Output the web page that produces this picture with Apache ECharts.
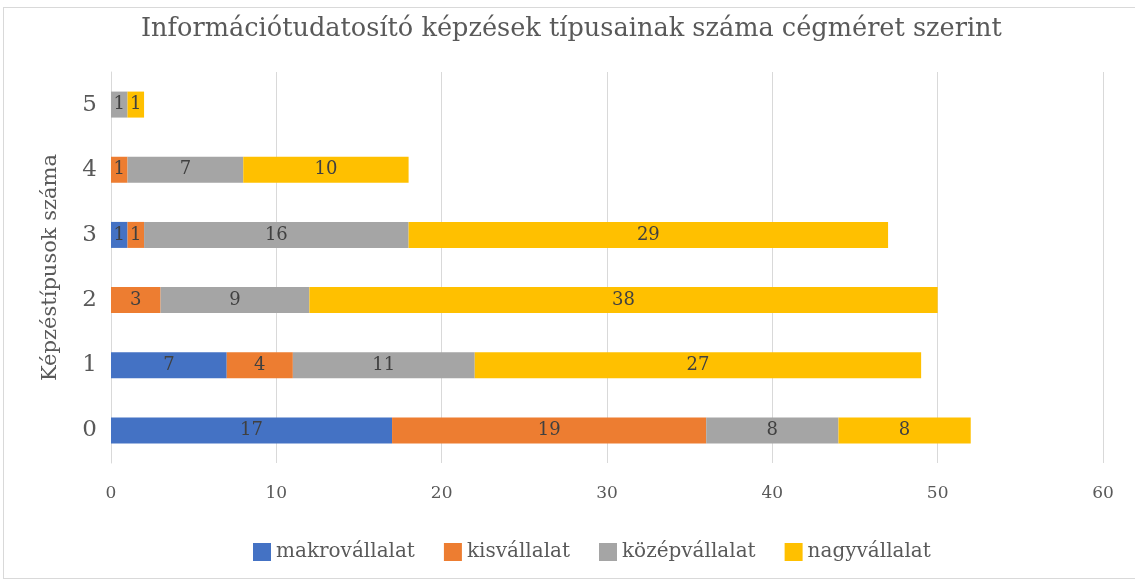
<!DOCTYPE html>
<html lang="hu">
<head>
    <meta charset="UTF-8">
    <title>Információtudatosító képzések</title>
    <script src="https://cdn.jsdelivr.net/npm/echarts@6/dist/echarts.min.js"></script>
    <style type="text/css">
        body{ margin:0; background:#fff; overflow:hidden; }
        .chartData{
            position:absolute;
            left:3px; top:7px;
            width:1150px; height:572px;
            border:1px solid #d9d9d9;
            box-sizing:border-box;
        }
    </style>
</head>
<body>
<div class="chartData" id="chartData"></div>
<script type="text/javascript">
    var categories = ['0', '1', '2', '3', '4', '5'];
    var makro  = [17, 7, null, 1, null, null];
    var kis    = [19, 4, 3, 1, 1, null];
    var kozep  = [8, 11, 9, 16, 7, 1];
    var nagy   = [8, 27, 38, 29, 10, 1];
    var seriesNames = ['makrovállalat', 'kisvállalat', 'középvállalat', 'nagyvállalat'];
    var colors = ['#4472c4', '#ed7d31', '#a5a5a5', '#ffc000'];

    var font = '"DejaVu Serif", "Liberation Serif", serif';
    var myChart = echarts.init(document.getElementById('chartData'));

    function makeSeries(name, data, color) {
        return {
            name: name,
            type: 'bar',
            stack: 'total',
            barWidth: 26,
            itemStyle: { color: color },
            label: {
                show: true,
                position: 'inside',
                color: '#404040',
                fontFamily: font,
                fontSize: 18,
                formatter: function (p) { return p.value == null ? '' : p.value; }
            },
            data: data
        };
    }

    var option = {
        animation: false,
        textStyle: { fontFamily: font },
        title: {
            text: 'Információtudatosító képzések típusainak száma cégméret szerint',
            left: 132,
            top: 3,
            textStyle: { color: '#595959', fontSize: 25.6, fontWeight: 'normal', fontFamily: font }
        },
        legend: {
            data: seriesNames,
            icon: 'rect',
            top: 529,
            left: 244,
            itemWidth: 18,
            itemHeight: 18,
            itemGap: 29,
            textStyle: { color: '#595959', fontSize: 20, fontFamily: font }
        },
        grid: {
            left: 107,
            width: 992,
            top: 64,
            height: 391,
            containLabel: false
        },
        xAxis: {
            type: 'value',
            min: 0,
            max: 60,
            interval: 10,
            axisLine: { show: false },
            axisTick: { show: false },
            splitLine: { lineStyle: { color: '#d9d9d9', width: 1 } },
            axisLabel: { color: '#595959', fontSize: 17, fontFamily: font, margin: 22 }
        },
        yAxis: {
            type: 'category',
            data: categories,
            name: 'Képzéstípusok száma',
            nameLocation: 'middle',
            nameGap: 50,
            nameRotate: 90,
            nameTextStyle: { color: '#595959', fontSize: 21, fontFamily: font },
            axisLine: { lineStyle: { color: '#d9d9d9' } },
            axisTick: { show: false },
            axisLabel: { color: '#595959', fontSize: 23, fontFamily: font, margin: 14 }
        },
        series: [
            makeSeries(seriesNames[0], makro, colors[0]),
            makeSeries(seriesNames[1], kis, colors[1]),
            makeSeries(seriesNames[2], kozep, colors[2]),
            makeSeries(seriesNames[3], nagy, colors[3])
        ]
    };
    myChart.setOption(option);
</script>
</body>
</html>
